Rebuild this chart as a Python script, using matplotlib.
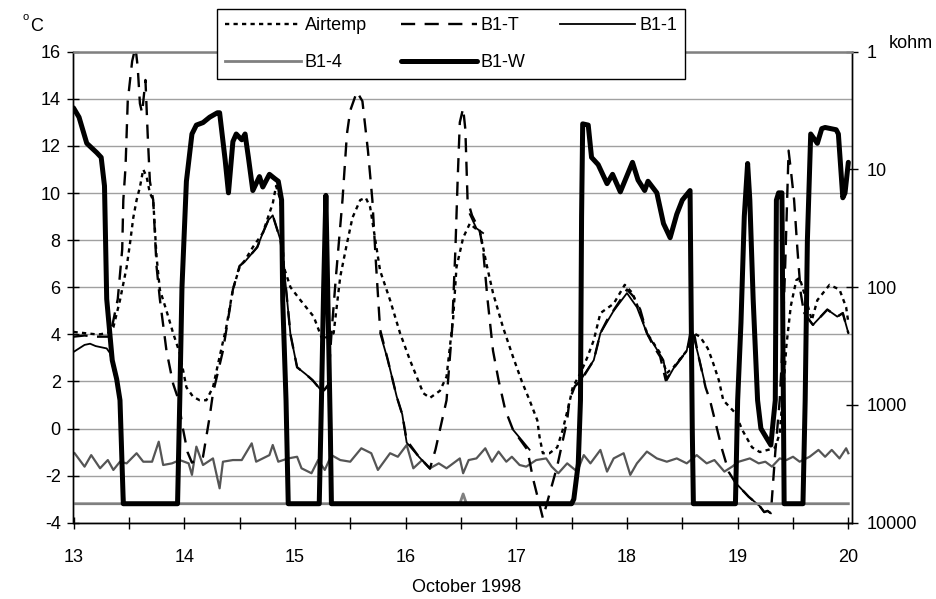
import numpy as np
import matplotlib.pyplot as plt
from matplotlib.ticker import MultipleLocator, FixedLocator, NullLocator

plt.rcParams['font.family'] = ['Liberation Sans', 'DejaVu Sans']
plt.rcParams['axes.unicode_minus'] = False

# ---------------- DATA (day of October 1998) ----------------
# Airtemp, degC
air_day = [13.00, 13.10, 13.20, 13.24, 13.30, 13.33, 13.36, 13.42, 13.48, 13.51, 13.54, 13.57,
           13.60, 13.63, 13.66, 13.69, 13.72, 13.75, 13.78, 13.84, 13.90, 13.96, 14.02, 14.08,
           14.14, 14.20, 14.26, 14.32, 14.38, 14.44, 14.50, 14.55, 14.62, 14.71, 14.77, 14.80,
           14.83, 14.85, 14.87, 14.90, 14.96, 15.05, 15.17, 15.25, 15.29, 15.35, 15.41, 15.47,
           15.52, 15.59, 15.64, 15.68, 15.72, 15.77, 15.86, 15.95, 16.04, 16.16, 16.22, 16.31,
           16.37, 16.40, 16.43, 16.46, 16.52, 16.58, 16.63, 16.67, 16.73, 16.79, 16.88, 16.97,
           17.05, 17.12, 17.19, 17.21, 17.24, 17.30, 17.37, 17.42, 17.48, 17.51, 17.58, 17.64,
           17.70, 17.76, 17.88, 17.98, 18.05, 18.12, 18.18, 18.30, 18.36, 18.42, 18.54, 18.60,
           18.66, 18.73, 18.77, 18.83, 18.87, 18.93, 18.98, 19.04, 19.13, 19.20, 19.28, 19.34,
           19.38, 19.41, 19.44, 19.48, 19.53, 19.56, 19.62, 19.67, 19.72, 19.83, 19.92, 19.98,
           20.00]
air_temp = [4.1, 4.05, 4.0, 4.0, 4.05, 4.1, 4.3, 5.45, 6.85, 7.85, 8.95, 9.7,
            10.25, 11.0, 10.7, 10.0, 9.7, 7.3, 5.9, 5.0, 4.05, 3.2, 1.75, 1.35,
            1.2, 1.2, 1.75, 3.05, 4.3, 5.9, 6.85, 7.15, 7.7, 8.3, 9.15, 9.55,
            10.3, 10.0, 9.7, 6.85, 6.0, 5.45, 4.75, 3.75, 3.9, 4.05, 6.45, 7.85,
            8.95, 9.7, 9.8, 9.4, 8.2, 6.7, 5.45, 4.05, 2.9, 1.5, 1.3, 1.6,
            2.2, 3.45, 4.7, 6.85, 8.1, 8.7, 8.5, 8.4, 7.0, 5.75, 4.3, 3.05,
            2.0, 1.2, 0.35, -0.35, -1.05, -1.05, -0.8, -0.05, 1.1, 1.75, 2.35, 3.0,
            3.75, 4.9, 5.3, 6.1, 5.75, 4.9, 4.05, 3.2, 2.35, 2.6, 3.3, 4.05,
            3.9, 3.4, 2.9, 2.05, 1.2, 0.9, 0.65, -0.05, -0.8, -1.0, -0.9, -0.8,
            -0.2, 1.5, 3.5, 5.2, 6.3, 6.4, 5.45, 4.6, 5.45, 6.1, 5.9, 5.15,
            4.5]

# B1-T, degC
b1t_day = [13.00, 13.10, 13.20, 13.30, 13.33, 13.40, 13.44, 13.45, 13.47, 13.49, 13.53, 13.56,
           13.58, 13.60, 13.62, 13.65, 13.67, 13.69, 13.72, 13.75, 13.78, 13.84, 13.90, 13.95,
           13.98, 14.03, 14.07, 14.12, 14.17, 14.23, 14.26, 14.35, 14.44, 14.50, 14.56, 14.66,
           14.71, 14.76, 14.80, 14.87, 14.90, 14.96, 15.02, 15.10, 15.16, 15.25, 15.30, 15.33,
           15.37, 15.43, 15.47, 15.50, 15.56, 15.61, 15.66, 15.70, 15.73, 15.77, 15.84, 15.92,
           15.97, 16.01, 16.12, 16.22, 16.27, 16.37, 16.42, 16.45, 16.47, 16.49, 16.52, 16.54,
           16.56, 16.60, 16.67, 16.70, 16.74, 16.79, 16.84, 16.90, 16.97, 17.10, 17.15, 17.24,
           17.37, 17.46, 17.48, 17.53, 17.58, 17.70, 17.76, 17.82, 17.94, 18.00, 18.06, 18.12,
           18.18, 18.24, 18.30, 18.35, 18.42, 18.54, 18.60, 18.64, 18.71, 18.75, 18.86, 18.92,
           18.98, 19.04, 19.10, 19.15, 19.20, 19.24, 19.27, 19.30, 19.34, 19.38, 19.40, 19.43,
           19.46, 19.48, 19.51, 19.54, 19.57, 19.60, 19.68, 19.81, 19.90, 19.95, 20.00]
b1t_temp = [3.9, 3.95, 3.9, 3.9, 3.9, 5.5, 7.6, 9.7, 11.1, 13.9, 15.6, 16.2,
            15.35, 13.8, 13.4, 14.8, 12.5, 10.5, 9.7, 6.9, 5.5, 3.3, 1.9, 1.2,
            0.2, -1.0, -1.45, -1.3, -1.2, 0.5, 1.5, 3.3, 5.9, 6.9, 7.15, 7.7,
            8.3, 8.85, 9.05, 8.0, 6.9, 4.0, 2.6, 2.3, 2.05, 1.55, 1.85, 4.0,
            6.4, 9.7, 12.5, 13.5, 14.3, 13.9, 11.8, 9.7, 7.2, 4.2, 2.9, 1.35,
            0.6, -0.5, -1.2, -1.7, -0.9, 1.2, 4.2, 7.6, 10.5, 13.0, 13.6, 12.7,
            9.7, 9.05, 8.4, 7.6, 5.5, 3.3, 2.05, 0.8, -0.05, -0.9, -2.1, -3.8,
            -1.6, 0.35, 1.2, 1.8, 2.0, 2.9, 4.05, 4.6, 5.45, 5.9, 5.6, 5.05,
            4.05, 3.5, 3.05, 2.05, 2.55, 3.3, 4.2, 3.2, 1.75, 1.2, -0.9, -1.85,
            -2.3, -2.6, -2.9, -3.1, -3.3, -3.55, -3.5, -3.6, -1.0, 1.2, 3.0, 7.0,
            11.8, 11.0, 9.7, 7.6, 5.75, 4.9, 4.4, 5.05, 4.75, 4.9, 4.05]

# B1-1, degC (None = no reading)
b11_day = [13.00, 13.05, 13.10, 13.15, 13.20, 13.25, 13.30, 13.33, 13.36, 13.40, 13.42, 13.44, 13.46, 13.47,
           14.56, 14.66, 14.71, 14.76, 14.80, 14.87, 14.90, 14.96, 15.02, 15.10, 15.16, 15.25, 15.31, 15.32,
           15.77, 15.84, 15.92, 15.97, 16.01, 16.12, 16.22, 16.23,
           16.58, 16.64, 16.70, 16.71,
           16.97, 17.05, 17.12, 17.13,
           17.55, 17.58, 17.70, 17.76, 17.88, 18.00, 18.09, 18.18, 18.33, 18.36, 18.42, 18.54, 18.58,
           18.64, 18.70, 18.71,
           18.98, 19.04, 19.10, 19.15, 19.20, 19.24, 19.27, 19.30, 19.31,
           19.60, 19.68, 19.81, 19.90, 19.95, 20.00]
b11_temp = [3.25, 3.4, 3.55, 3.6, 3.5, 3.45, 3.4, 3.2, 2.5, 1.75, 1.2, -1.0, -3.2, None,
            7.15, 7.7, 8.3, 8.85, 9.05, 8.0, 6.9, 4.0, 2.6, 2.3, 2.05, 1.55, 1.85, None,
            4.05, 2.9, 1.35, 0.6, -0.6, -1.2, -1.7, None,
            9.1, 8.5, 8.3, None,
            -0.05, -0.5, -0.9, None,
            1.9, 2.05, 2.9, 4.05, 5.0, 5.75, 5.15, 4.05, 2.9, 2.05, 2.55, 3.3, 4.3,
            3.2, 2.0, None,
            -2.3, -2.6, -2.9, -3.1, -3.3, -3.55, -3.5, -3.6, None,
            4.9, 4.4, 5.05, 4.75, 4.9, 4.05]

# B1-4, degC
b14_day = [13.01, 13.10, 13.16, 13.24, 13.31, 13.36, 13.42, 13.48, 13.57, 13.63, 13.71, 13.77,
           13.81, 13.89, 13.96, 14.04, 14.07, 14.11, 14.17, 14.26, 14.32, 14.35, 14.44, 14.52,
           14.61, 14.65, 14.77, 14.80, 14.85, 14.94, 15.02, 15.06, 15.15, 15.21, 15.27, 15.33,
           15.41, 15.50, 15.60, 15.69, 15.75, 15.86, 15.93, 16.01, 16.07, 16.15, 16.22, 16.30,
           16.37, 16.45, 16.49, 16.52, 16.57, 16.64, 16.72, 16.78, 16.84, 16.91, 16.96, 17.03,
           17.09, 17.18, 17.27, 17.32, 17.38, 17.46, 17.55, 17.61, 17.67, 17.76, 17.82, 17.88,
           17.97, 18.03, 18.09, 18.18, 18.27, 18.36, 18.45, 18.54, 18.63, 18.72, 18.79, 18.88,
           18.95, 19.01, 19.11, 19.19, 19.25, 19.31, 19.38, 19.44, 19.50, 19.56, 19.65, 19.73,
           19.79, 19.85, 19.92, 19.98, 20.00]
b14_temp = [-1.05, -1.62, -1.13, -1.69, -1.34, -1.76, -1.41, -1.48, -1.05, -1.41, -1.41, -0.56,
            -1.55, -1.48, -1.34, -1.48, -1.97, -0.77, -1.55, -1.27, -2.54, -1.41, -1.34, -1.34,
            -0.63, -1.41, -1.13, -0.70, -1.41, -1.27, -1.20, -1.69, -1.90, -1.34, -1.76, -1.13,
            -1.34, -1.41, -0.84, -1.05, -1.76, -1.05, -1.20, -0.70, -1.69, -1.34, -1.69, -1.48,
            -1.69, -1.41, -1.27, -1.90, -1.34, -1.27, -0.84, -1.41, -0.98, -1.41, -1.20, -1.55,
            -1.62, -1.34, -1.27, -1.62, -1.90, -1.48, -1.83, -1.13, -1.48, -0.91, -1.83, -1.27,
            -1.05, -1.97, -1.48, -0.98, -1.27, -1.41, -1.27, -1.48, -1.13, -1.48, -1.34, -1.83,
            -1.62, -1.41, -1.27, -1.48, -1.41, -1.62, -1.27, -1.34, -1.20, -1.41, -1.20, -0.91,
            -1.20, -0.91, -1.27, -0.84, -1.05]

# B1-4 resistance, kohm
b14r_day = [13.00, 16.49, 16.52, 16.55, 20.00]
b14r_kohm = [6900, 6900, 5700, 6900, 6900]

# B1-W resistance, kohm
b1w_day = [13.00, 13.05, 13.12, 13.21, 13.25, 13.28, 13.30, 13.35, 13.39, 13.42, 13.45, 13.94,
           13.96, 13.98, 14.02, 14.07, 14.11, 14.17, 14.23, 14.30, 14.32, 14.37, 14.40, 14.44,
           14.47, 14.52, 14.55, 14.58, 14.62, 14.68, 14.71, 14.77, 14.82, 14.85, 14.88, 14.89,
           14.92, 14.94, 15.22, 15.24, 15.26, 15.28, 15.30, 15.32, 15.33, 17.50, 17.52, 17.56,
           17.58, 17.59, 17.60, 17.65, 17.68, 17.74, 17.82, 17.87, 17.94, 18.05, 18.10, 18.16,
           18.19, 18.27, 18.33, 18.39, 18.45, 18.50, 18.57, 18.58, 18.59, 18.60, 18.98, 19.00,
           19.03, 19.06, 19.09, 19.11, 19.14, 19.18, 19.21, 19.26, 19.30, 19.32, 19.34, 19.35,
           19.37, 19.40, 19.41, 19.42, 19.59, 19.61, 19.63, 19.66, 19.72, 19.76, 19.79, 19.89,
           19.91, 19.95, 19.97, 20.00]
b1w_kohm = [3.0, 3.6, 6.0, 7.2, 7.9, 13.8, 126, 417, 603, 912, 6900, 6900,
            912, 100, 12.6, 5.0, 4.2, 4.0, 3.6, 3.3, 3.3, 8.3, 15.8, 5.8,
            5.0, 5.6, 5.0, 7.9, 15.1, 11.5, 14.1, 11.0, 12.0, 12.6, 18.2, 129,
            912, 6900, 6900, 912, 100, 16.6, 158, 1585, 6900, 6900, 6300, 3160,
            912, 25, 4.1, 4.2, 7.9, 9.1, 13.2, 11.0, 15.5, 8.7, 12.3, 15.1,
            12.6, 15.8, 28.8, 38.0, 24.0, 18.2, 15.1, 158, 1585, 6900, 6900, 912,
            200, 25, 8.9, 18.2, 126, 912, 1585, 1900, 2190, 1400, 912, 18.2,
            15.8, 15.8, 398, 6900, 6900, 912, 39.8, 5.0, 6.0, 4.5, 4.4, 4.6,
            5.0, 17.4, 15.8, 8.7]

# ---------------- PLOT ----------------
fig = plt.figure(figsize=(9.37, 5.99), dpi=100)
ax = fig.add_axes([73.5 / 937, 1 - 522.7 / 599, (852 - 73.5) / 937, (522.7 - 51.7) / 599])
ax2 = ax.twinx()

ax.yaxis.grid(True, color='#a0a0a0', lw=1)
ax.set_axisbelow(True)

b11 = np.array([np.nan if v is None else v for v in b11_temp])

l_b14, = ax.plot(b14_day, b14_temp, color='#555555', lw=1.6)
l_air, = ax.plot(air_day, air_temp, color='black', lw=1.7, ls=(0, (1.8, 1.8)), label='Airtemp')
l_b1t, = ax.plot(b1t_day, b1t_temp, color='black', lw=1.7, ls=(0, (6, 4)), label='B1-T')
l_b11, = ax.plot(b11_day, b11, color='black', lw=1.3, label='B1-1')

l_b14r, = ax2.plot(b14r_day, b14r_kohm, color='#808080', lw=2, label='B1-4')
l_b1w, = ax2.plot(b1w_day, b1w_kohm, color='black', lw=3.6, label='B1-W',
                  solid_joinstyle='round', solid_capstyle='round')

ax.set_xlim(13, 20.033)
ax.set_ylim(-4, 16)
ax2.set_yscale('log')
ax2.set_ylim(10000, 1)

ax.xaxis.set_major_locator(MultipleLocator(1))
ax.xaxis.set_minor_locator(MultipleLocator(0.5))
ax.yaxis.set_major_locator(MultipleLocator(2))
ax.tick_params(axis='x', which='both', direction='inout', length=8.5, width=1, labelsize=13, pad=14.5)
ax.tick_params(axis='y', direction='inout', length=8.5, width=1, labelsize=13, pad=5)
ax.xaxis.set_major_formatter(plt.FuncFormatter(lambda v, p: f'{v:.0f}'))

ax2.yaxis.set_major_locator(FixedLocator([1, 10, 100, 1000, 10000]))
ax2.yaxis.set_minor_locator(NullLocator())
ax2.yaxis.set_major_formatter(plt.FuncFormatter(lambda v, p: f'{v:.0f}'))
ax2.tick_params(axis='y', direction='inout', length=8.5, width=1, labelsize=13, pad=6)

ax.spines['top'].set_visible(False)
ax2.spines['top'].set_color('#808080')
ax2.spines['top'].set_linewidth(1.8)
for a in (ax, ax2):
    for s in ('left', 'right', 'bottom'):
        a.spines[s].set_color('black')
        a.spines[s].set_linewidth(1)

# axis titles
fig.text(23 / 937, 1 - 20 / 599, 'o', fontsize=8, va='baseline')
fig.text(30 / 937, 1 - 31 / 599, 'C', fontsize=13, va='baseline')
fig.text(889 / 937, 1 - 48 / 599, 'kohm', fontsize=13, va='baseline')
fig.text(467 / 937, 1 - 588 / 599, 'October 1998', fontsize=13, ha='center', va='center')

leg = ax2.legend([l_air, l_b14r, l_b1t, l_b1w, l_b11],
                 ['Airtemp', 'B1-4', 'B1-T', 'B1-W', 'B1-1'],
                 ncol=3, loc='upper left', bbox_to_anchor=(217 / 937, 1 - 9 / 599),
                 bbox_transform=fig.transFigure, borderaxespad=0, fontsize=13, handlelength=4.2,
                 handletextpad=0.2, columnspacing=1.9, borderpad=0.45, labelspacing=1.1,
                 fancybox=False, framealpha=1, edgecolor='black')
leg.get_frame().set_linewidth(1.0)

fig.savefig('out.png', dpi=100)
